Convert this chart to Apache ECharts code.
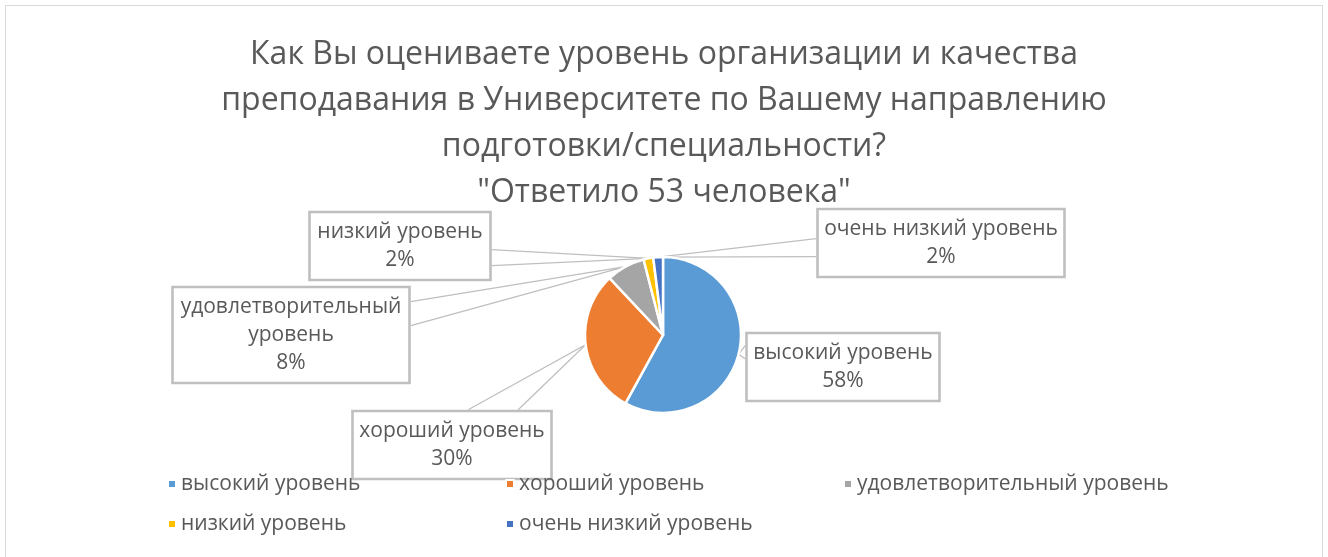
<!DOCTYPE html>
<html>
<head>
<meta charset="utf-8">
<script src="https://cdn.jsdelivr.net/npm/echarts@6/dist/echarts.min.js"></script>
<style>
  html, body { margin: 0; padding: 0; background: #ffffff; }
  #chart { width: 1328px; height: 557px; }
</style>
</head>
<body>
<div id="chart"></div>
<script>
// Survey answers (share of respondents, %)
const categories = [
  'высокий уровень',
  'хороший уровень',
  'удовлетворительный уровень',
  'низкий уровень',
  'очень низкий уровень'
];
const shares = [58, 30, 8, 2, 2];
const colors = ['#5B9BD5', '#ED7D31', '#A5A5A5', '#FFC000', '#4472C4'];
const titleLines = [
  'Как Вы оцениваете уровень организации и качества',
  'преподавания в Университете по Вашему направлению',
  'подготовки/специальности?',
  '"Ответило 53 человека"'
];

const FONT = '"Open Sans", "Noto Sans", sans-serif';
const TEXT = '#595959';
const LINE = '#BFBFBF';

// Callout boxes: centre of each box, text width, and where the pointer leaves the box
// side: edge of the box the pointer starts from; a/b: offsets along that edge
const callouts = [
  { cx: 843, cy: 367, w: 177, side: 'left',  a: 14, b: 27 },
  { cx: 452, cy: 445, w: 183, side: 'top',   a: 117, b: 167 },
  { cx: 291, cy: 335, w: 221, side: 'right', a: 16, b: 40 },
  { cx: 400, cy: 246, w: 165, side: 'right', a: 39, b: 55 },
  { cx: 941, cy: 243, w: 231, side: 'left',  a: 31, b: 49 }
];

// long category names are split over two lines inside their callout
function wrapName(name) {
  if (name.length <= 20) return name;
  const k = name.lastIndexOf(' ');
  return name.slice(0, k) + '\n' + name.slice(k + 1);
}

const chart = echarts.init(document.getElementById('chart'), null, { renderer: 'canvas' });

const data = categories.map((name, i) => ({
  name: name,
  value: shares[i],
  itemStyle: { color: colors[i] },
  label: { width: callouts[i].w }
}));

const option = {
  animation: false,
  backgroundColor: '#ffffff',
  graphic: [{
    type: 'rect',
    silent: true,
    shape: { x: 5.5, y: 5.5, width: 1317, height: 600 },
    style: { fill: 'none', stroke: '#D9D9D9', lineWidth: 1 }
  }],
  title: {
    text: titleLines.join('\n'),
    left: 'center',
    top: 27,
    textStyle: {
      fontFamily: FONT,
      fontSize: 32,
      fontWeight: 'normal',
      color: TEXT,
      lineHeight: 46
    }
  },
  legend: {
    data: categories,
    left: 162,
    top: 468,
    width: 1060,
    icon: 'rect',
    itemWidth: 8,
    itemHeight: 8,
    itemGap: 18,
    textStyle: {
      fontFamily: FONT,
      fontSize: 21,
      color: TEXT,
      width: 306,
      height: 22,
      lineHeight: 22
    }
  },
  series: [{
    type: 'pie',
    center: [663, 335],
    radius: 78,
    startAngle: 90,
    clockwise: true,
    data: data,
    itemStyle: { borderColor: '#ffffff', borderWidth: 2.5 },
    label: {
      show: true,
      position: 'outside',
      fontFamily: FONT,
      fontSize: 21,
      color: TEXT,
      lineHeight: 28,
      align: 'center',
      overflow: 'none',
      padding: [8, 8, 4, 8],
      borderColor: LINE,
      borderWidth: 1.3,
      backgroundColor: 'transparent',
      formatter: p => wrapName(p.name) + '\n' + p.value + '%'
    },
    labelLine: {
      show: true,
      lineStyle: { color: LINE, width: 1.3 }
    },
    labelLayout: function (params) {
      const c = callouts[params.dataIndex];
      const r = params.labelRect;
      const w = r.width, h = r.height;
      const left = c.cx - w / 2, top = c.cy - h / 2;

      let tip = params.labelLinePoints && params.labelLinePoints[0];
      if (!tip) tip = [params.rect.x + params.rect.width / 2, params.rect.y + params.rect.height / 2];

      let pA, pB;
      if (c.side === 'left') { pA = [left, top + c.a]; pB = [left, top + c.b]; }
      else if (c.side === 'right') { pA = [left + w, top + c.a]; pB = [left + w, top + c.b]; }
      else if (c.side === 'top') { pA = [left + c.a, top]; pB = [left + c.b, top]; }
      else { pA = [left + c.a, top + h]; pB = [left + c.b, top + h]; }

      return {
        x: c.cx,
        y: c.cy,
        align: 'center',
        verticalAlign: 'middle',
        labelLinePoints: [pA, tip, pB]
      };
    }
  }]
};

chart.setOption(option);
</script>
</body>
</html>
